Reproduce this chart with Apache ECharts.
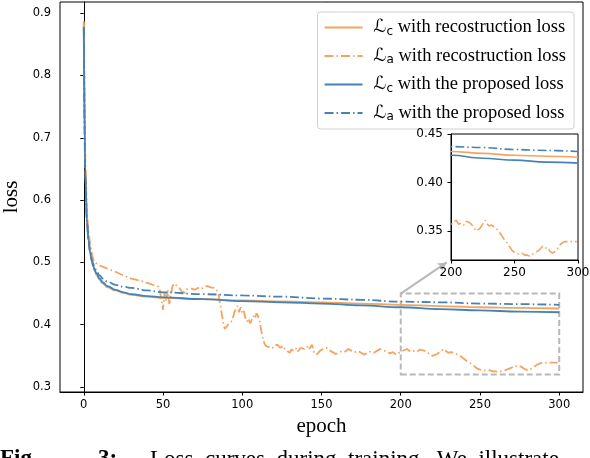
<!DOCTYPE html>
<html>
<head>
<meta charset="utf-8">
<script src="https://cdn.jsdelivr.net/npm/echarts@6/dist/echarts.min.js"></script>
<style>
  html, body { margin: 0; padding: 0; background: #fff; }
  #main { width: 590px; height: 458px; }
</style>
</head>
<body>
<div id="main"></div>
<script>
// smooth curves, sampled epochs
const epochs = [0, 1, 2, 3, 4, 5, 6, 7, 8, 10, 12, 15, 20, 25, 30, 40, 50, 75, 100, 125, 150, 175, 200, 225, 250, 275, 300]
const lcRecon = [0.885, 0.645, 0.565, 0.535, 0.515, 0.502, 0.493, 0.486, 0.480, 0.472, 0.466, 0.460, 0.455, 0.451, 0.448, 0.445, 0.443, 0.441, 0.439, 0.4375, 0.436, 0.434, 0.432, 0.430, 0.428, 0.427, 0.426]
const lcProposed = [0.878, 0.640, 0.565, 0.535, 0.516, 0.503, 0.494, 0.487, 0.482, 0.474, 0.468, 0.462, 0.456, 0.452, 0.449, 0.446, 0.444, 0.441, 0.438, 0.436, 0.434, 0.431, 0.428, 0.425, 0.423, 0.421, 0.420]
const laProposed = [0.878, 0.640, 0.565, 0.536, 0.518, 0.506, 0.498, 0.491, 0.486, 0.479, 0.474, 0.469, 0.464, 0.461, 0.459, 0.455, 0.452, 0.449, 0.447, 0.445, 0.442, 0.440, 0.437, 0.436, 0.434, 0.433, 0.432]

// noisy curve (La with reconstruction loss)
const laReconEpochs = [0, 1, 2, 3, 4, 5, 6, 7, 8, 10, 13, 16, 20, 25, 30, 35, 40, 45, 47, 48, 49, 50, 51, 52, 53, 54, 55, 56, 57, 58, 60, 61, 62, 63, 64, 65, 66, 68, 70, 72, 74, 76, 78, 80, 82, 84, 85, 86, 87, 88, 89, 90, 91, 92, 93, 94, 95, 96, 97, 98, 99, 100, 101, 102, 103, 104, 105, 106, 107, 108, 109, 110, 111, 112, 113, 114, 115, 116, 117, 118, 119, 120, 122, 124, 126, 127, 128, 130, 131, 133, 134, 135, 137, 139, 141, 142, 144, 145, 147, 149, 151, 153, 155, 157, 159, 161, 163, 165, 167, 169, 171, 173, 175, 177, 179, 181, 183, 185, 187, 189, 191, 193, 195, 197, 199, 200, 202, 204, 206, 208, 210, 212, 214, 216, 218, 220, 221, 223, 225, 227, 228, 230, 232, 234, 236, 238, 240, 242, 244, 246, 248, 250, 252, 254, 256, 258, 260, 262, 264, 266, 268, 270, 272, 274, 276, 278, 280, 282, 284, 286, 288, 290, 293, 296, 299]
const laRecon = [0.887, 0.660, 0.580, 0.550, 0.530, 0.515, 0.505, 0.500, 0.498, 0.495, 0.492, 0.489, 0.485, 0.479, 0.474, 0.471, 0.467, 0.463, 0.461, 0.455, 0.440, 0.424, 0.452, 0.438, 0.455, 0.433, 0.448, 0.462, 0.466, 0.463, 0.460, 0.457, 0.453, 0.456, 0.451, 0.457, 0.460, 0.458, 0.456, 0.459, 0.457, 0.461, 0.462, 0.460, 0.459, 0.455, 0.448, 0.435, 0.418, 0.403, 0.393, 0.395, 0.400, 0.398, 0.405, 0.410, 0.420, 0.425, 0.430, 0.420, 0.428, 0.418, 0.422, 0.410, 0.405, 0.410, 0.402, 0.408, 0.414, 0.410, 0.418, 0.414, 0.405, 0.390, 0.378, 0.370, 0.366, 0.368, 0.364, 0.367, 0.362, 0.366, 0.368, 0.363, 0.366, 0.360, 0.358, 0.355, 0.360, 0.358, 0.362, 0.357, 0.363, 0.361, 0.365, 0.360, 0.368, 0.357, 0.352, 0.358, 0.361, 0.363, 0.359, 0.356, 0.353, 0.355, 0.358, 0.357, 0.361, 0.358, 0.356, 0.358, 0.355, 0.352, 0.355, 0.357, 0.355, 0.358, 0.361, 0.359, 0.357, 0.354, 0.356, 0.352, 0.355, 0.356, 0.359, 0.361, 0.357, 0.358, 0.356, 0.360, 0.359, 0.357, 0.353, 0.350, 0.348, 0.353, 0.357, 0.361, 0.358, 0.355, 0.356, 0.354, 0.352, 0.349, 0.345, 0.341, 0.338, 0.334, 0.330, 0.328, 0.327, 0.326, 0.327, 0.325, 0.325, 0.324, 0.326, 0.327, 0.329, 0.331, 0.334, 0.332, 0.333, 0.329, 0.327, 0.329, 0.332, 0.336, 0.338, 0.339, 0.339, 0.339, 0.339]

const xTicks = [0, 50, 100, 150, 200, 250, 300]
const yTicks = [0.3, 0.4, 0.5, 0.6, 0.7, 0.8, 0.9]
const insetYTicks = [0.35, 0.40, 0.45]
const names = ['Lc_recon', 'La_recon', 'Lc_prop', 'La_prop']

const orange = '#f4a460'
const blue = '#4682b4'
const dashDot = [9, 3, 1.5, 3]
const tickFont = 'DejaVu Sans'
const serif = 'Liberation Serif'

const zip = (xs, ys) => xs.map((x, i) => [x, ys[i]])

var chart = echarts.init(document.getElementById('main'))

function makeSeries(idx, name, data, color, dashed, smooth) {
  return {
    name: name,
    type: 'line',
    xAxisIndex: idx,
    yAxisIndex: idx,
    data: data,
    showSymbol: false,
    symbol: 'none',
    smooth: smooth ? 0.4 : false,
    smoothMonotone: 'x',
    clip: true,
    animation: false,
    silent: true,
    lineStyle: { color: color, width: 1.8, type: dashed ? dashDot : 'solid' },
    itemStyle: { color: color },
    z: 3
  }
}

const mainSeries = [
  makeSeries(0, names[0], zip(epochs, lcRecon), orange, false, true),
  makeSeries(0, names[1], zip(laReconEpochs, laRecon), orange, true, false),
  makeSeries(0, names[2], zip(epochs, lcProposed), blue, false, true),
  makeSeries(0, names[3], zip(epochs, laProposed), blue, true, true)
]
// zoom rectangle and arrow
mainSeries[0].markArea = {
  silent: true,
  itemStyle: { color: 'rgba(0,0,0,0)', borderColor: '#b8b8b8', borderWidth: 2, borderType: [6, 3] },
  data: [[{ xAxis: 200, yAxis: 0.32 }, { xAxis: 300, yAxis: 0.45 }]]
}
mainSeries[0].markLine = {
  silent: true,
  symbol: ['none', 'arrow'],
  symbolSize: [7, 9],
  label: { show: false },
  lineStyle: { color: '#b8b8b8', width: 2, type: 'solid' },
  data: [[{ coord: [200, 0.45] }, { coord: [229, 0.5] }]]
}

const insetSeries = [
  makeSeries(1, names[0], zip(epochs, lcRecon), orange, false, true),
  makeSeries(1, names[1], zip(laReconEpochs, laRecon), orange, true, false),
  makeSeries(1, names[2], zip(epochs, lcProposed), blue, false, true),
  makeSeries(1, names[3], zip(epochs, laProposed), blue, true, true)
]
insetSeries.forEach(s => { s.z = 10; s.lineStyle.width = 1.6 })

const legendText = {
  Lc_recon: '{L|ℒ}{s|c}{t| with recostruction loss}',
  La_recon: '{L|ℒ}{s|a}{t| with recostruction loss}',
  Lc_prop: '{L|ℒ}{s|c}{t| with the proposed loss}',
  La_prop: '{L|ℒ}{s|a}{t| with the proposed loss}'
}

var option = {
  backgroundColor: '#fff',
  animation: false,
  grid: [
    { left: 60, top: 2, width: 523, height: 390, outerBoundsMode: 'none', containLabel: false, show: true, borderColor: '#000', borderWidth: 1, backgroundColor: 'rgba(0,0,0,0)' },
    { left: 451, top: 134, width: 127, height: 126, outerBoundsMode: 'none', containLabel: false, show: true, borderColor: '#000', borderWidth: 1, backgroundColor: '#fff', z: 8 }
  ],
  xAxis: [
    {
      gridIndex: 0, type: 'value', min: -15, max: 315,
      name: 'epoch', nameLocation: 'middle', nameGap: 24,
      nameTextStyle: { fontFamily: serif, fontSize: 21, color: '#000' },
      axisLine: { show: true, lineStyle: { color: '#000', width: 1 } },
      axisTick: { show: true, length: 3.5, customValues: xTicks, lineStyle: { color: '#000' } },
      axisLabel: { customValues: xTicks, margin: 7, fontFamily: tickFont, fontSize: 11.5, color: '#000' },
      splitLine: { show: false }
    },
    {
      gridIndex: 1, type: 'value', min: 200, max: 300, interval: 50, z: 9,
      axisLine: { show: true, lineStyle: { color: '#000', width: 1 } },
      axisTick: { show: true, length: 3.5, lineStyle: { color: '#000' } },
      axisLabel: { margin: 7, fontFamily: tickFont, fontSize: 12, color: '#000' },
      splitLine: { show: false }
    }
  ],
  yAxis: [
    {
      gridIndex: 0, type: 'value', min: 0.292, max: 0.918,
      name: 'loss', nameLocation: 'middle', nameGap: 36, nameRotate: 90,
      nameTextStyle: { fontFamily: serif, fontSize: 21, color: '#000' },
      axisLine: { show: true, lineStyle: { color: '#000', width: 1 } },
      axisTick: { show: true, length: 3.5, customValues: yTicks, lineStyle: { color: '#000' } },
      axisLabel: { customValues: yTicks, margin: 9, fontFamily: tickFont, fontSize: 11.5, color: '#000', formatter: v => v.toFixed(1) },
      splitLine: { show: false }
    },
    {
      gridIndex: 1, type: 'value', min: 0.32, max: 0.45, z: 9,
      axisLine: { show: true, lineStyle: { color: '#000', width: 1 } },
      axisTick: { show: true, length: 3.5, customValues: insetYTicks, lineStyle: { color: '#000' } },
      axisLabel: { customValues: insetYTicks, margin: 8, fontFamily: tickFont, fontSize: 12, color: '#000', formatter: v => v.toFixed(2) },
      splitLine: { show: false }
    }
  ],
  legend: {
    data: names,
    orient: 'vertical',
    right: 16,
    top: 12,
    padding: [6, 8, 6, 6],
    itemGap: 9,
    itemWidth: 38,
    itemHeight: 14,
    backgroundColor: 'rgba(255,255,255,0.85)',
    borderColor: '#d0d0d0',
    borderWidth: 1,
    borderRadius: 3,
    selectedMode: false,
    itemStyle: { opacity: 0 },
    formatter: n => legendText[n],
    textStyle: {
      color: '#000',
      padding: [0, 0, 0, 6],
      rich: {
        L: { fontFamily: 'DejaVu Sans', fontSize: 18, color: '#000' },
        s: { fontFamily: 'DejaVu Sans', fontSize: 12, color: '#000', verticalAlign: 'bottom', padding: [8, 0, 0, 0] },
        t: { fontFamily: serif, fontSize: 18.5, color: '#000' }
      }
    }
  },
  graphic: [
    { type: 'text', left: 0, top: 448, style: { text: 'Fig.', font: 'bold 23px "Liberation Serif"', fill: '#000' } },
    { type: 'text', left: 98, top: 448, style: { text: '3:', font: 'bold 23px "Liberation Serif"', fill: '#000' } },
    { type: 'text', left: 150, top: 448, style: { text: 'Loss  curves  during  training.  We  illustrate', font: '23px "Liberation Serif"', fill: '#000' } }
  ],
  series: mainSeries.concat(insetSeries)
}

chart.setOption(option)
</script>
</body>
</html>
